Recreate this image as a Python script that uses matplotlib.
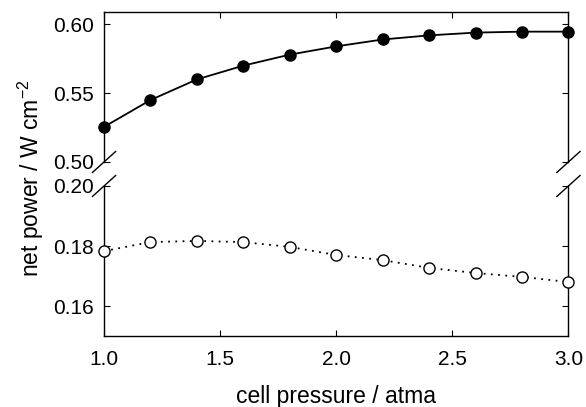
import matplotlib
matplotlib.use('Agg')
import matplotlib.pyplot as plt

plt.rcParams['font.family'] = ['Liberation Sans', 'DejaVu Sans']

# cell pressure / atma
pressure = [1.0, 1.2, 1.4, 1.6, 1.8, 2.0, 2.2, 2.4, 2.6, 2.8, 3.0]
# upper series (filled circles)
power_hi = [0.5255, 0.545, 0.560, 0.570, 0.578, 0.584, 0.589, 0.592, 0.594, 0.5947, 0.5947]
# lower series (open circles)
power_lo = [0.1783, 0.1813, 0.1817, 0.1813, 0.1797, 0.1770, 0.1753, 0.1727, 0.1710, 0.1697, 0.1680]

xticks = [1.0, 1.5, 2.0, 2.5, 3.0]
yticks_hi = [0.50, 0.55, 0.60]
yticks_lo = [0.16, 0.18, 0.20]

fig = plt.figure(figsize=(5.86, 4.07), dpi=100)
axtop = fig.add_axes([0.1775, 0.6020, 0.7925, 0.3686])
axbot = fig.add_axes([0.1775, 0.1744, 0.7925, 0.3686])

axtop.plot(pressure, power_hi, color='black', lw=1.3, marker='o', ms=8,
           mfc='black', mec='black', clip_on=False, zorder=3)
axbot.plot(pressure, power_lo, color='black', lw=1.3, ls=(0, (1, 3)), marker='o', ms=8,
           mfc='white', mec='black', mew=1.0, clip_on=False, zorder=3)

axtop.set_xlim(1.0, 3.0)
axbot.set_xlim(1.0, 3.0)
axtop.set_ylim(0.50, 0.609)
axbot.set_ylim(0.15, 0.20)

axtop.spines['bottom'].set_visible(False)
axbot.spines['top'].set_visible(False)

axtop.set_xticks(xticks)
axtop.tick_params(axis='x', bottom=False, labelbottom=False, top=True, direction='in', length=4)
axbot.set_xticks(xticks)
axbot.set_xticklabels(['%.1f' % v for v in xticks])
axbot.tick_params(axis='x', top=False, direction='in', length=4, labelsize=15, pad=10)

axtop.set_yticks(yticks_hi)
axtop.set_yticklabels(['%.2f' % v for v in yticks_hi])
axbot.set_yticks(yticks_lo)
axbot.set_yticklabels(['%.2f' % v for v in yticks_lo])
for ax in (axtop, axbot):
    ax.tick_params(axis='y', right=True, direction='in', length=4, labelsize=15, pad=7)
    for s in ax.spines.values():
        s.set_linewidth(1.0)

# break marks
d = 0.025
kw = dict(color='black', lw=1.0, clip_on=False)
for xx in (0, 1):
    axtop.plot([xx - d, xx + d], [-0.07, 0.07], transform=axtop.transAxes, **kw)
    axbot.plot([xx - d, xx + d], [1 - 0.07, 1 + 0.07], transform=axbot.transAxes, **kw)

fig.text(0.052, 0.563, 'net power / W cm$^{\\mathregular{-2}}$', rotation=90,
         ha='center', va='center', fontsize=16.5)
fig.text(0.574, 0.027, 'cell pressure / atma', ha='center', va='center', fontsize=16.5)

fig.savefig('out.png', dpi=100)
